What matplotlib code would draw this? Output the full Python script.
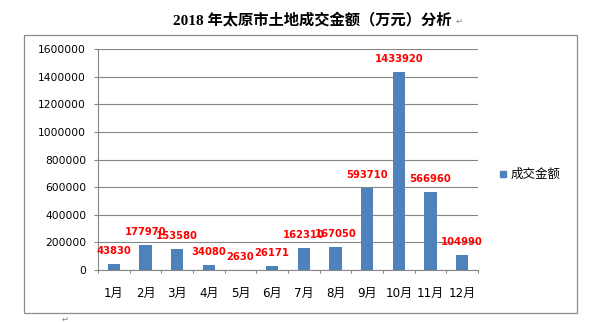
import matplotlib
matplotlib.use("Agg")
import matplotlib.pyplot as plt
from matplotlib.patches import Rectangle
from matplotlib.ticker import FixedLocator

months = ["1月", "2月", "3月", "4月", "5月", "6月", "7月", "8月", "9月", "10月", "11月", "12月"]
amounts = [43830, 177970, 153580, 34080, 2630, 26171, 162310, 167050, 593710, 1433920, 566960, 104990]
yticks = [0, 200000, 400000, 600000, 800000, 1000000, 1200000, 1400000, 1600000]
series_name = "成交金额"
title = "2018 年太原市土地成交金额（万元）分析"

W, H = 596, 322
fig = plt.figure(figsize=(W / 100, H / 100), dpi=100)
fig.patch.set_facecolor("white")

# outer chart frame
fig.patches.append(Rectangle((24 / W, 1 - 313 / H), (577 - 24) / W, (313 - 35) / H,
                             transform=fig.transFigure, fill=False,
                             edgecolor="#8c8c8c", linewidth=0.9))

ax = fig.add_axes([98 / W, 1 - 270 / H, (478 - 98) / W, (270 - 49) / H])
x = list(range(len(months)))
bar_color = "#4F81BD"
bars = ax.bar(x, amounts, width=0.38, color=bar_color, zorder=3)

ax.set_xlim(-0.5, len(months) - 0.5)
ax.set_ylim(0, 1600000)
ax.set_yticks(yticks)
ax.set_yticklabels([str(v) for v in yticks])
ax.yaxis.grid(True, color="#868686", linewidth=0.8, zorder=0)
ax.set_axisbelow(True)

for s in ["top", "right"]:
    ax.spines[s].set_visible(False)
for s in ["left", "bottom"]:
    ax.spines[s].set_color("#868686")
    ax.spines[s].set_linewidth(0.8)

ax.tick_params(axis="y", direction="out", length=3, width=0.8, color="#868686",
               pad=5.5, labelsize=7.7, labelcolor="#000000")
ax.set_xticks(x)
ax.set_xticklabels(months, fontfamily=["DejaVu Sans", "Noto Sans CJK SC"], fontsize=8.6)
ax.tick_params(axis="x", which="major", length=0, pad=12)
ax.xaxis.set_minor_locator(FixedLocator([i - 0.5 for i in range(len(months) + 1)]))
ax.tick_params(axis="x", which="minor", direction="out", length=2.5, width=0.8, color="#868686")

for xi, v in zip(x, amounts):
    ax.annotate(str(v), (xi, v), xytext=(0, 9.4), textcoords="offset points",
                ha="center", va="center", color="#ff0000", fontsize=7.2,
                fontweight="bold", zorder=5)

# legend
fig.patches.append(Rectangle((500 / W, 1 - 177 / H), 6 / W, 6 / H,
                             transform=fig.transFigure, color=bar_color))
fig.text(511 / W, 1 - 174 / H, series_name, fontfamily=["Noto Sans CJK SC"],
         fontsize=9, va="center", ha="left")

fig.text(312 / W, 1 - 20 / H, title, fontfamily=["Liberation Serif", "Noto Sans CJK SC"],
         fontsize=11, fontweight="bold", ha="center", va="center")
fig.text(456 / W, 1 - 21 / H, "↵", fontsize=6, color="#808080", va="center", ha="left")
fig.text(62 / W, 1 - 319 / H, "↵", fontsize=6, color="#808080", va="center", ha="left")

fig.savefig("out.png", dpi=100, facecolor="white")
